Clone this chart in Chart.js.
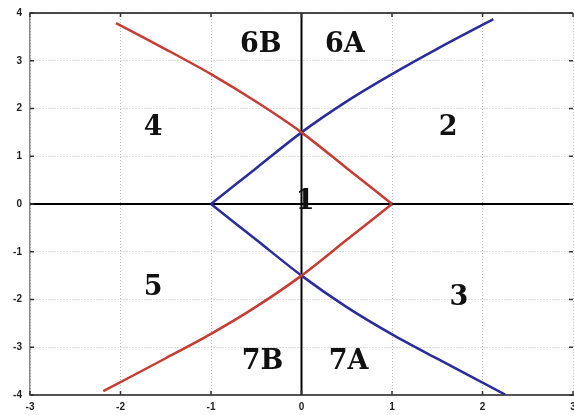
<!DOCTYPE html>
<html><head><meta charset="utf-8">
<script src="https://cdn.jsdelivr.net/npm/chart.js@4/dist/chart.umd.min.js"></script>
<style>html,body{margin:0;padding:0;background:#fff}#wrap{width:574px;height:415px}</style>
</head><body><div id="wrap"><canvas id="c" width="574" height="415"></canvas></div>
<script>
// Data
const xTicks = [-3,-2,-1,0,1,2,3];
const yTicks = [-4,-3,-2,-1,0,1,2,3,4];
// blue curve: upper branch (top-right end -> vertex at x=-1), lower branch (vertex -> bottom-right end)
const blueUpperX = [2.12, 1.5, 1.0, 0.5, 0, -0.5, -1];
const blueUpperY = [3.87, 3.25, 2.72, 2.15, 1.5, 0.75, 0];
const blueLowerX = [-1, -0.5, 0, 0.5, 1.0, 1.5, 2.25];
const blueLowerY = [0, -0.75, -1.5, -2.16, -2.73, -3.24, -3.99];
// red curve: upper branch (top-left end -> vertex at x=1), lower branch (vertex -> bottom-left end)
const redUpperX = [-2.05, -1.5, -1.0, -0.5, 0, 0.5, 1];
const redUpperY = [3.79, 3.24, 2.72, 2.14, 1.5, 0.75, 0];
const redLowerX = [1, 0.5, 0, -0.5, -1.0, -1.5, -2.19];
const redLowerY = [0, -0.75, -1.5, -2.15, -2.72, -3.23, -3.92];
const regionNames = ['6B','6A','4','2','1','5','3','7B','7A'];
const regionX = [-0.45, 0.48, -1.64, 1.62, 0.04, -1.64, 1.74, -0.43, 0.52];
const regionY = [3.32, 3.32, 1.6, 1.6, 0.04, -1.76, -1.97, -3.30, -3.30];

const pts = (xs, ys) => xs.map((x, i) => ({x, y: ys[i]}));

const regionPlugin = {
  id: 'regions',
  afterDatasetsDraw(chart) {
    const {ctx, scales: {x, y}, chartArea: a} = chart;
    ctx.save();
    ctx.strokeStyle = '#111'; ctx.lineWidth = 1.5;
    ctx.beginPath(); ctx.moveTo(a.left, a.top); ctx.lineTo(a.right, a.top); ctx.stroke();
    ctx.strokeStyle = '#333'; ctx.lineWidth = 1.5;
    xTicks.forEach(v => {
      const px = x.getPixelForValue(v);
      ctx.beginPath(); ctx.moveTo(px, a.top); ctx.lineTo(px, a.top + 4);
      ctx.moveTo(px, a.bottom); ctx.lineTo(px, a.bottom - 4); ctx.stroke();
    });
    yTicks.forEach(v => {
      const py = y.getPixelForValue(v);
      ctx.beginPath(); ctx.moveTo(a.left, py); ctx.lineTo(a.left + 4, py);
      ctx.moveTo(a.right, py); ctx.lineTo(a.right - 4, py); ctx.stroke();
    });
    ctx.fillStyle = '#111';
    ctx.font = 'bold 27px "DejaVu Serif"';
    ctx.textAlign = 'center'; ctx.textBaseline = 'middle';
    regionNames.forEach((t, i) => {
      ctx.fillText(t, x.getPixelForValue(regionX[i]), y.getPixelForValue(regionY[i]));
    });
    ctx.restore();
  }
};

const curve = (xs, ys, color, order) => ({data: pts(xs, ys), showLine: true, borderColor: color, borderWidth: 2.5, pointRadius: 0, tension: 0.3, order});

new Chart(document.getElementById('c'), {
  type: 'scatter',
  data: {
    datasets: [
      {data: [{x:-3,y:0},{x:3,y:0}], showLine: true, borderColor: '#000', borderWidth: 2, pointRadius: 0, order: 3},
      {data: [{x:0,y:-4},{x:0,y:4}], showLine: true, borderColor: '#000', borderWidth: 2, pointRadius: 0, order: 3},
      curve(redUpperX, redUpperY, '#c63c33', 1),
      curve(redLowerX, redLowerY, '#c63c33', 1),
      curve(blueUpperX, blueUpperY, '#2a2c9c', 2),
      curve(blueLowerX, blueLowerY, '#2a2c9c', 2)
    ]
  },
  options: {
    responsive: false, animation: false,
    layout: {padding: {top: 13, right: 1, left: 0, bottom: 0}},
    plugins: {legend: {display: false}, tooltip: {enabled: false}},
    scales: {
      x: {
        type: 'linear', min: -3, max: 3,
        afterFit: s => { s.height = 20; s.paddingLeft = 0; s.paddingRight = 0; },
        afterBuildTicks: s => { s.ticks = xTicks.map(v => ({value: v})); },
        grid: {color: '#b8b8b8', lineWidth: 1, drawTicks: false},
        border: {color: '#555', width: 2, dash: [1, 2]},
        ticks: {padding: 6, color: '#222', font: {family: 'Liberation Sans', weight: 'bold', size: 10}}
      },
      y: {
        type: 'linear', min: -4, max: 4,
        afterFit: s => { s.width = 30; s.paddingTop = 0; s.paddingBottom = 0; },
        afterBuildTicks: s => { s.ticks = yTicks.map(v => ({value: v})); },
        grid: {color: '#b8b8b8', lineWidth: 1, drawTicks: false},
        border: {color: '#888', width: 1.5, dash: [1, 2]},
        ticks: {padding: 8, color: '#222', font: {family: 'Liberation Sans', weight: 'bold', size: 10}}
      }
    }
  },
  plugins: [regionPlugin]
});
</script></body></html>
